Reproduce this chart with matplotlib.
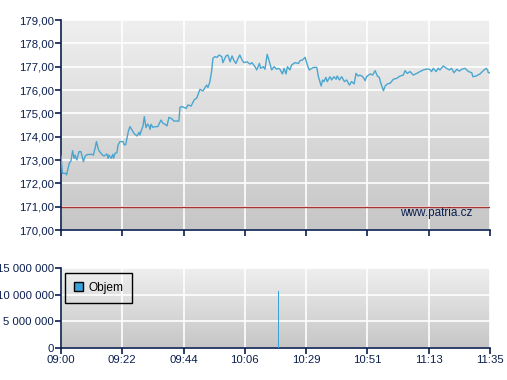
import numpy as np
import matplotlib.pyplot as plt
from matplotlib.ticker import FuncFormatter
from matplotlib.colors import LinearSegmentedColormap
from matplotlib.patches import Patch

plt.rcParams['font.family'] = ['Liberation Sans', 'DejaVu Sans']

# minutes after 09:00 and price
minutes = [0, 0.5, 1.7, 2.0, 3.0, 3.6, 4.2, 4.7, 5.1, 5.7, 6.5, 7.2, 8.1, 8.7, 9.6,
           11.2, 11.7, 12.3, 12.8, 13.4, 13.7, 14.8, 15.5, 16.6, 17.0, 17.3, 18.1,
           18.7, 19.0, 19.5, 20.2, 20.6, 21.3, 22.4, 22.9, 23.4, 24.3, 24.9, 25.3,
           26.0, 26.7, 27.5, 28.2, 28.5, 29.3, 29.6, 30.1, 30.7, 31.3, 31.8, 32.2,
           32.5, 33.2, 34.0, 35.0, 36.1, 36.9, 37.6, 38.3, 39.0, 40.1, 40.8, 42.6,
           43.0, 43.7, 45.2, 45.9, 47.0, 48.1, 49.1, 50.2, 51.3, 52.6, 53.1, 53.8,
           54.4, 54.9, 55.6, 56.4, 57.1, 58.1, 58.5, 59.6, 60.3, 61.1, 61.8, 62.5,
           63.2, 64.0, 64.6, 65.4, 66.1, 67.2, 68.3, 69.0, 70.1,
           70.7, 71.7, 72.1, 73.1, 73.7, 74.5, 75.3, 76.1, 77.0, 77.9, 78.5, 79.1,
           80.0, 80.6, 81.3, 81.8, 82.7, 83.3, 84.5, 85.8, 86.4, 87.3, 88.2, 89.0,
           89.7, 91.2, 92.4, 93.0, 94.0, 94.5, 95.0, 95.7, 96.2, 97.2, 97.8, 98.6,
           99.4, 99.8, 100.6, 101.4, 102.4, 103.2, 104.2, 105.0, 105.9, 106.6,
           107.4, 108.0, 109.0, 109.9, 110.4, 111.7, 112.6, 113.5, 114.3, 115.0,
           115.5, 116.5, 117.1, 117.9, 118.9, 120.1, 121.3, 122.5, 123.7, 124.3,
           125.1, 126.1, 127.3, 128.5, 129.7, 130.9, 132.1, 133.1, 133.9, 134.5,
           135.5, 136.3, 136.9, 138.1, 139.3, 140.3, 141.1, 142.0, 143.0, 143.9,
           144.8, 146.0, 147.2, 148.4, 148.8, 150.0, 151.4, 152.6, 153.6, 154.1,
           154.4, 155.0]
price = [173.17, 172.43, 172.43, 172.36, 172.86, 172.96, 173.40, 173.07, 173.21,
         173.00, 173.36, 173.36, 172.93, 173.17, 173.24, 173.24, 173.21, 173.50,
         173.79, 173.50, 173.40, 173.24, 173.17, 173.26, 173.07, 173.21, 173.07,
         173.24, 173.07, 173.29, 173.31, 173.64, 173.79, 173.79, 173.64, 173.67,
         174.21, 174.43, 174.36, 174.21, 174.10, 174.03, 174.19, 174.07, 174.36,
         174.43, 174.86, 174.39, 174.54, 174.46, 174.31, 174.53, 174.40, 174.43,
         174.43, 174.71, 174.57, 174.53, 174.46, 174.83, 174.76, 174.67, 174.67,
         175.26, 175.29, 175.21, 175.36, 175.31, 175.57, 175.67, 176.03, 175.96,
         176.21, 176.11, 176.36, 176.79, 177.36, 177.43, 177.40, 177.50, 177.43,
         177.17, 177.46, 177.50, 177.21, 177.46, 177.26, 177.14, 177.36, 177.50,
         177.29, 177.17, 177.21, 177.11, 177.17, 177.00,
         176.86, 177.14, 176.93, 177.00, 176.89, 177.53, 177.21, 176.86, 177.00,
         176.89, 176.93, 176.89, 176.69, 176.93, 176.69, 177.00, 176.86, 177.07,
         177.17, 177.14, 177.26, 177.29, 177.40, 177.07, 176.86, 176.97, 176.97,
         176.57, 176.17, 176.43, 176.36, 176.54, 176.36, 176.57, 176.43, 176.57,
         176.46, 176.60, 176.43, 176.57, 176.36, 176.43, 176.21, 176.36, 176.26,
         176.71, 176.60, 176.64, 176.57, 176.40, 176.57, 176.69, 176.64, 176.83,
         176.60, 176.54, 176.31, 175.97, 176.17, 176.26, 176.29, 176.46, 176.50,
         176.60, 176.64, 176.83, 176.71, 176.79, 176.64, 176.71, 176.79, 176.86,
         176.90, 176.89, 176.79, 176.93, 176.79, 176.93, 176.86, 177.03, 176.93,
         176.86, 176.93, 176.74, 176.89, 176.81, 176.89, 176.93, 176.79, 176.74,
         176.57, 176.60, 176.69, 176.83, 176.93, 176.86, 176.74, 176.74]

vol_minutes = [78.5]
volume = [10.7e6]

ref_price = 171.0
time_labels = ['09:00', '09:22', '09:44', '10:06', '10:29', '10:51', '11:13', '11:35']
session_len = 155

navy = '#0b1f4f'
line_blue = '#4aa6d0'

fig = plt.figure(figsize=(5.07, 3.80), dpi=100)
ax1 = fig.add_axes([61/507, 1 - 230/380, 429/507, 210/380])
ax2 = fig.add_axes([61/507, 1 - 348/380, 429/507, 80/380])

grad = LinearSegmentedColormap.from_list('g', ['#c6c6c6', '#efefef'])
xticks = np.linspace(0, session_len, len(time_labels))

for ax in (ax1, ax2):
    ax.imshow(np.linspace(0, 1, 256).reshape(-1, 1)[::-1], cmap=grad, aspect='auto',
              extent=[0, 1, 0, 1], transform=ax.transAxes, zorder=0)
    ax.set_xlim(0, session_len)
    ax.set_xticks(xticks)
    ax.grid(True, color='white', lw=1.2, zorder=1)
    ax.set_axisbelow(True)
    for s in ('top', 'right'):
        ax.spines[s].set_visible(False)
    for s in ('left', 'bottom'):
        ax.spines[s].set_color(navy)
        ax.spines[s].set_linewidth(1.2)
    ax.tick_params(colors=navy, labelcolor=navy, labelsize=8.2, length=4, width=1.2, pad=1.2)

ax1.plot(minutes, price, color=line_blue, lw=1, zorder=3)
ax1.axhline(ref_price, color='#a83232', lw=1, zorder=2)
ax1.set_ylim(170, 179)
ax1.set_yticks(range(170, 180))
ax1.yaxis.set_major_formatter(FuncFormatter(lambda v, p: f'{v:.2f}'.replace('.', ',')))
ax1.set_xticklabels([])
ax1.text(0.96, 0.081, 'www.patria.cz', transform=ax1.transAxes, ha='right',
         va='center', color=navy, fontsize=8.5)

ax2.bar(vol_minutes, volume, width=0.4, color='#3aa0d8', zorder=3, linewidth=0)
ax2.set_ylim(0, 15e6)
ax2.set_yticks([0, 5e6, 10e6, 15e6])
ax2.yaxis.set_major_formatter(FuncFormatter(lambda v, p: f'{int(v):,}'.replace(',', ' ')))
ax2.set_xticklabels(time_labels)

leg = ax2.legend(handles=[Patch(facecolor='#3aa0d8', edgecolor='black', label='Objem')],
                 loc='upper left', bbox_to_anchor=(0.009, 0.94), borderaxespad=0,
                 fancybox=False, framealpha=1, facecolor='none', edgecolor='black',
                 fontsize=8.6, handlelength=0.8, handleheight=0.8, handletextpad=0.4,
                 borderpad=0.75)
leg.get_frame().set_linewidth(1)
for t in leg.get_texts():
    t.set_color('black')

fig.savefig('out.png', dpi=100)
